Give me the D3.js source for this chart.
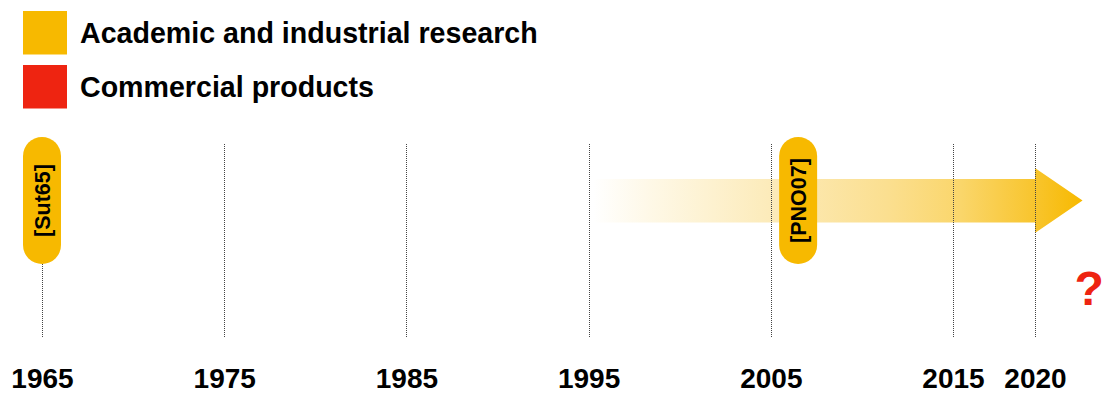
<!DOCTYPE html>
<html><head><meta charset="utf-8">
<script src="https://cdn.jsdelivr.net/npm/d3@7"></script>
<style>body{margin:0;background:#fff}svg{display:block}</style>
</head><body>
<svg id="c" width="1105" height="396"></svg>
<script>
// ---- data ----
const tickYears = [1965, 1975, 1985, 1995, 2005, 2015, 2020];
const tickLabels = ["1965", "1975", "1985", "1995", "2005", "2015", "2020"];
const legendLabels = ["Academic and industrial research", "Commercial products"];
const legendColors = ["#F7B900", "#EE2411"];
const pillLabels = ["[Sut65]", "[PNO07]"];
const pillYears = [1965, 2006.5];
const arrowStartYear = 1995.25;
const arrowBaseYear = 2020;
const arrowTipYear = 2022.9;
const questionYear = 2023.3;
const questionLabel = "?";

// ---- scales ----
const x = d3.scaleLinear().domain([1965, 2015, 2020]).range([42, 953, 1035]);
const svg = d3.select("#c");
const font = "'Liberation Sans', Arial, Helvetica, sans-serif";

// legend
const lg = svg.append("g");
legendLabels.forEach((t, i) => {
  const y0 = 11 + i * 54;
  lg.append("rect").attr("x", 23).attr("y", y0).attr("width", 44).attr("height", 43.5).attr("fill", legendColors[i]);
  lg.append("text").attr("x", 80).attr("y", y0 + 32.3).text(t)
    .attr("font-family", font).attr("font-weight", "bold").attr("font-size", 28.6).attr("fill", "#000");
});

// gradient
const defs = svg.append("defs");
const grad = defs.append("linearGradient").attr("id", "ag").attr("gradientUnits", "userSpaceOnUse")
  .attr("x1", x(arrowStartYear)).attr("x2", x(arrowTipYear)).attr("y1", 0).attr("y2", 0);
[[0, "#FFFFFF"], [0.12, "#FEF8E6"], [0.36, "#FCEBBA"], [0.6, "#FBDF90"], [0.75, "#FAD66B"], [0.9, "#F8C52E"], [1, "#F7B900"]]
  .forEach(([o, c]) => grad.append("stop").attr("offset", o).attr("stop-color", c));

// arrow
const bx0 = x(arrowStartYear), bx1 = x(arrowBaseYear), tip = x(arrowTipYear);
const bodyTop = 179, bodyBot = 222.5, headTop = 168, headBot = 233, midY = 200.5;
const p = d3.path();
p.moveTo(bx0, bodyTop); p.lineTo(bx1, bodyTop); p.lineTo(bx1, headTop); p.lineTo(tip, midY);
p.lineTo(bx1, headBot); p.lineTo(bx1, bodyBot); p.lineTo(bx0, bodyBot); p.closePath();
svg.append("path").attr("d", p.toString()).attr("fill", "url(#ag)");

// gridlines
svg.append("g").selectAll("line").data(tickYears).join("line")
  .attr("x1", d => Math.round(x(d)) + 0.5).attr("x2", d => Math.round(x(d)) + 0.5)
  .attr("y1", 144).attr("y2", 338)
  .attr("stroke", "#444").attr("stroke-width", 1).attr("stroke-dasharray", "1,1");

// axis labels
const axis = d3.axisBottom(x).tickValues(tickYears).tickFormat((d, i) => tickLabels[i]).tickSize(0).tickPadding(0);
const ag = svg.append("g").attr("transform", "translate(0,367)").call(axis);
ag.select(".domain").remove();
ag.selectAll("text").attr("font-family", font).attr("font-weight", "bold").attr("font-size", 28)
  .attr("fill", "#000").attr("dy", null).attr("y", 20.5);

// pills
const pg = svg.append("g").selectAll("g").data(pillYears).join("g")
  .attr("transform", d => `translate(${x(d)},200.5)`);
pg.append("rect").attr("x", -19).attr("y", -63.5).attr("width", 38).attr("height", 127)
  .attr("rx", 19).attr("ry", 19).attr("fill", "#F7B900");
pg.append("text").text((d, i) => pillLabels[i]).attr("transform", "rotate(-90)")
  .attr("text-anchor", "middle").attr("y", 7.5)
  .attr("font-family", font).attr("font-weight", "bold").attr("font-size", 21.5).attr("fill", "#000");

// question mark
svg.append("text").attr("x", x(questionYear)).attr("y", 305).attr("text-anchor", "middle").text(questionLabel)
  .attr("font-family", font).attr("font-weight", "bold").attr("font-size", 48).attr("fill", "#EE2411");
</script>
</body></html>
